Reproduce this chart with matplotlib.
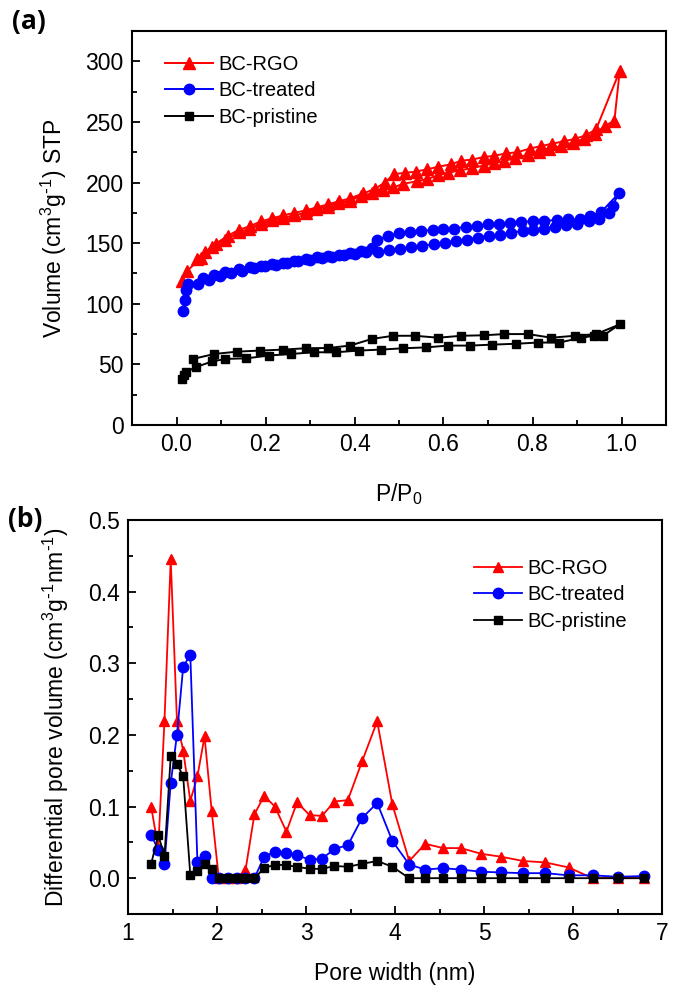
import numpy as np
import matplotlib
matplotlib.use("Agg")
import matplotlib.pyplot as plt
from matplotlib.ticker import MultipleLocator

plt.rcParams['font.family'] = ['Liberation Sans', 'DejaVu Sans']
plt.rcParams['mathtext.default'] = 'regular'

# ---------------- Panel (a) data: N2 isotherms ----------------
rgo_ads_p = [0.013, 0.023, 0.055, 0.08, 0.11, 0.14, 0.164, 0.19, 0.215, 0.24, 0.265, 0.29, 0.313,
             0.34, 0.364, 0.39, 0.414, 0.44, 0.463, 0.487, 0.51, 0.54, 0.564, 0.588, 0.61, 0.636,
             0.665, 0.69, 0.713, 0.737, 0.76, 0.79, 0.814, 0.838, 0.864, 0.89, 0.915, 0.94, 0.964,
             0.984, 0.996]
rgo_ads_v = [118.6, 126.8, 137.7, 147, 153, 159, 162, 166, 169, 171, 173, 175, 178,
             180, 183, 185, 189, 191, 194, 196, 199, 201, 203, 206, 208, 210,
             212, 214, 216, 218, 220, 223, 225, 228, 230, 233, 236, 240, 247,
             251, 292]
rgo_des_p = [0.943, 0.92, 0.895, 0.87, 0.844, 0.818, 0.794, 0.766, 0.74, 0.713, 0.69, 0.665, 0.64,
             0.616, 0.588, 0.564, 0.538, 0.513, 0.489, 0.468, 0.447, 0.42, 0.39, 0.365, 0.34, 0.315,
             0.29, 0.265, 0.24, 0.215, 0.19, 0.165, 0.14, 0.115, 0.088, 0.065, 0.045]
rgo_des_v = [244, 239, 236, 234, 232, 230, 228, 225, 224, 222, 221, 219, 218,
             215, 213, 211, 209, 208, 207, 200, 195, 191, 187, 184.5, 182, 179.5,
             177, 175, 173, 170.5, 168, 164, 161, 156, 149.5, 143, 137]

trt_ads_p = [0.014, 0.018, 0.022, 0.026, 0.048, 0.073, 0.097, 0.122, 0.148, 0.174, 0.198, 0.223,
             0.249, 0.273, 0.3, 0.326, 0.35, 0.376, 0.4, 0.426, 0.452, 0.477, 0.503, 0.527, 0.552,
             0.578, 0.603, 0.628, 0.653, 0.677, 0.703, 0.728, 0.752, 0.778, 0.802, 0.826, 0.85,
             0.875, 0.9, 0.926, 0.95, 0.972, 0.98, 0.994]
trt_ads_v = [94, 103, 111, 116, 116, 119.5, 123, 125.5, 127.4, 129.5, 131, 132,
             133.6, 135, 136.4, 137.7, 138.5, 140, 141, 142.4, 143, 144, 145, 146.5, 148,
             149, 150.5, 152, 153, 154.6, 156, 157, 158.7, 160, 161, 162, 163.6,
             165, 166, 168, 170, 174.5, 181, 191]
trt_des_p = [0.955, 0.93, 0.907, 0.88, 0.855, 0.826, 0.8, 0.774, 0.75, 0.725, 0.7, 0.675, 0.65,
             0.624, 0.6, 0.576, 0.55, 0.524, 0.5, 0.475, 0.45, 0.44, 0.415, 0.39, 0.365, 0.34,
             0.315, 0.29, 0.265, 0.24, 0.215, 0.19, 0.165, 0.14, 0.11, 0.085, 0.06]
trt_des_v = [176, 172, 170, 169.6, 169, 168.5, 168, 167.7, 167, 166, 165.5, 164.5, 163.6,
             162, 161.4, 161, 160, 159, 158, 156, 152.7, 146, 143.5, 142, 140.5, 139.5,
             138.5, 137, 135.5, 134, 132.5, 131.5, 130, 128.5, 126.5, 124, 121]

pri_ads_p = [0.013, 0.017, 0.021, 0.043, 0.08, 0.11, 0.157, 0.208, 0.257, 0.31, 0.358, 0.41, 0.46,
             0.51, 0.56, 0.61, 0.66, 0.71, 0.762, 0.812, 0.86, 0.91, 0.938, 0.958, 0.996]
pri_ads_v = [38, 41.5, 43.6, 47.7, 52.4, 54.5, 55, 57.3, 58.6, 60, 60, 61.4, 62.2,
             63.3, 64, 65.5, 65.5, 66.3, 67, 68, 68, 72, 73.6, 73.6, 83]
pri_des_p = [0.943, 0.895, 0.842, 0.79, 0.737, 0.69, 0.64, 0.588, 0.536, 0.487, 0.439, 0.39, 0.34,
             0.29, 0.24, 0.188, 0.136, 0.085, 0.037]
pri_des_v = [75, 73.6, 72, 75, 75, 74, 73.6, 72, 73.6, 73.6, 71, 65.5, 63.5,
             63.3, 62.2, 61.4, 60.5, 58.6, 54.5]

# ---------------- Panel (b) data: pore size distribution ----------------
pore_width = [1.26, 1.34, 1.41, 1.48, 1.55, 1.62, 1.70, 1.78, 1.86, 1.94, 2.02, 2.12, 2.22, 2.32,
              2.42, 2.53, 2.65, 2.78, 2.90, 3.04, 3.18, 3.32, 3.47, 3.63, 3.80, 3.97, 4.16, 4.34,
              4.54, 4.74, 4.97, 5.19, 5.44, 5.69, 5.95, 6.22, 6.50, 6.80]
psd_rgo = [0.100, 0.042, 0.220, 0.445, 0.220, 0.178, 0.108, 0.142, 0.198, 0.094, 0.0, 0.0, 0.0,
           0.011, 0.089, 0.115, 0.100, 0.065, 0.106, 0.088, 0.087, 0.107, 0.109, 0.163, 0.219,
           0.103, 0.024, 0.048, 0.042, 0.042, 0.034, 0.030, 0.024, 0.022, 0.015, 0.0, 0.0, 0.0]
psd_trt = [0.060, 0.040, 0.020, 0.133, 0.200, 0.295, 0.312, 0.023, 0.031, 0.0, 0.0, 0.0, 0.0,
           0.0, 0.0, 0.030, 0.037, 0.035, 0.032, 0.026, 0.027, 0.041, 0.046, 0.084, 0.105,
           0.052, 0.019, 0.012, 0.014, 0.012, 0.009, 0.008, 0.007, 0.007, 0.004, 0.004, 0.002, 0.003]
psd_pri = [0.020, 0.060, 0.031, 0.170, 0.160, 0.142, 0.004, 0.010, 0.020, 0.013, 0.0, 0.0, 0.0,
           0.0, 0.0, 0.014, 0.019, 0.018, 0.016, 0.013, 0.013, 0.017, 0.016, 0.020, 0.024,
           0.016, 0.0, 0.0, 0.0, 0.0, 0.0, 0.0, 0.0, 0.0, 0.0, 0.0, 0.0, 0.0]

labels = ['BC-RGO', 'BC-treated', 'BC-pristine']
colors = ['#ff0000', '#0000ff', '#000000']
markers = ['^', 'o', 's']

W, H = 675, 991
fig = plt.figure(figsize=(W / 100, H / 100), dpi=100)

def px_axes(l, t, r, b):
    return fig.add_axes([l / W, 1 - b / H, (r - l) / W, (b - t) / H])

def style(ax):
    for s in ax.spines.values():
        s.set_linewidth(1.5)
    ax.tick_params(which='both', direction='in', top=False, right=False, width=1.3,
                   labelsize=16.5, pad=6)
    ax.tick_params(which='major', length=6)
    ax.tick_params(which='minor', length=3.5)

# Panel (a)
axa = px_axes(132, 31, 666, 425)
series_a = [(rgo_ads_p, rgo_ads_v, rgo_des_p, rgo_des_v),
            (trt_ads_p, trt_ads_v, trt_des_p, trt_des_v),
            (pri_ads_p, pri_ads_v, pri_des_p, pri_des_v)]
msz_a = [8, 7.5, 6]
for (ap, av, dp, dv), lab, c, m, ms in zip(series_a, labels, colors, markers, msz_a):
    x = np.concatenate([ap, dp])
    y = np.concatenate([av, dv])
    axa.plot(x, y, color=c, marker=m, markersize=ms, linewidth=1.4, label=lab)
axa.set_xlim(-0.1, 1.1)
axa.set_ylim(0, 325)
axa.xaxis.set_major_locator(MultipleLocator(0.2))
axa.xaxis.set_minor_locator(MultipleLocator(0.1))
axa.yaxis.set_major_locator(MultipleLocator(50))
axa.yaxis.set_minor_locator(MultipleLocator(25))
axa.set_xticks([0.0, 0.2, 0.4, 0.6, 0.8, 1.0])
axa.set_xticklabels(['0.0', '0.2', '0.4', '0.6', '0.8', '1.0'])
style(axa)
axa.set_xlabel('P/P$_0$', fontsize=16.5, labelpad=18)
axa.set_ylabel('Volume (cm$^3$g$^{\\text{-}1}$) STP', fontsize=16.5, labelpad=12)
axa.legend(loc='upper left', bbox_to_anchor=(0.062, 0.94), frameon=False, fontsize=14.5,
           handlelength=2.4, handletextpad=0.25, labelspacing=0.38, borderaxespad=0, borderpad=0)

# Panel (b)
axb = px_axes(128, 520, 662, 914)
msz_b = [7.5, 7.5, 6]
for yv, lab, c, m, ms in zip([psd_rgo, psd_trt, psd_pri], labels, colors, markers, msz_b):
    axb.plot(pore_width, yv, color=c, marker=m, markersize=ms, linewidth=1.3, label=lab)
axb.set_xlim(1, 7)
axb.set_ylim(-0.05, 0.5)
axb.xaxis.set_major_locator(MultipleLocator(1))
axb.xaxis.set_minor_locator(MultipleLocator(0.5))
axb.yaxis.set_major_locator(MultipleLocator(0.1))
axb.yaxis.set_minor_locator(MultipleLocator(0.05))
axb.set_yticks([0.0, 0.1, 0.2, 0.3, 0.4, 0.5])
axb.set_yticklabels(['0.0', '0.1', '0.2', '0.3', '0.4', '0.5'])
style(axb)
axb.set_xlabel('Pore width (nm)', fontsize=16.5, labelpad=12)
axb.set_ylabel('Differential pore volume (cm$^3$g$^{\\text{-}1}$nm$^{\\text{-}1}$)', fontsize=16.5, labelpad=12)
axb.legend(loc='upper left', bbox_to_anchor=(0.648, 0.902), frameon=False, fontsize=14.5,
           handlelength=2.4, handletextpad=0.25, labelspacing=0.38, borderaxespad=0, borderpad=0)

# Panel letters
fig.text(12 / W, 1 - 22 / H, '(a)', fontsize=19, fontweight='bold', family=['Open Sans', 'DejaVu Sans'],
         va='center', ha='left')
fig.text(8 / W, 1 - 520 / H, '(b)', fontsize=19, fontweight='bold', family=['Open Sans', 'DejaVu Sans'],
         va='center', ha='left')

fig.savefig('out.png', dpi=100)
